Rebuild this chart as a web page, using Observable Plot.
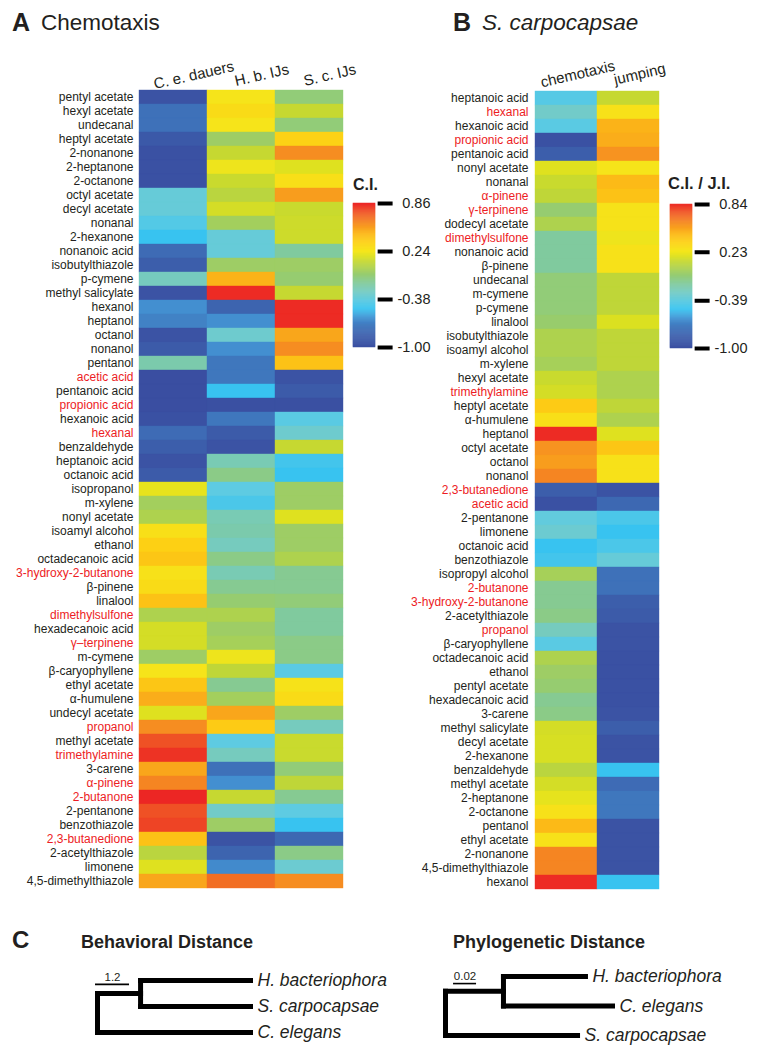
<!DOCTYPE html>
<html><head><meta charset="utf-8">
<script src="https://cdn.jsdelivr.net/npm/d3@7"></script>
<script src="https://cdn.jsdelivr.net/npm/@observablehq/plot@0.6"></script>
<style>
body{margin:0;background:#fff;}
#fig{position:relative;width:757px;height:1050px;font-family:"Liberation Sans",Arial,Helvetica,sans-serif;color:#231f20;overflow:hidden;background:#fff}
.abs{position:absolute;line-height:1;white-space:nowrap}
.abs svg{overflow:visible}
</style></head><body><div id="fig"></div>
<script>
// ---------------- data ----------------
const columnsA = ["C. e. dauers", "H. b. IJs", "S. c. IJs"];
const compoundsA = ["pentyl acetate","hexyl acetate","undecanal","heptyl acetate","2-nonanone","2-heptanone","2-octanone","octyl acetate","decyl acetate","nonanal","2-hexanone","nonanoic acid","isobutylthiazole","p-cymene","methyl salicylate","hexanol","heptanol","octanol","nonanol","pentanol","acetic acid","pentanoic acid","propionic acid","hexanoic acid","hexanal","benzaldehyde","heptanoic acid","octanoic acid","isopropanol","m-xylene","nonyl acetate","isoamyl alcohol","ethanol","octadecanoic acid","3-hydroxy-2-butanone","β-pinene","linalool","dimethylsulfone","hexadecanoic acid","γ–terpinene","m-cymene","β-caryophyllene","ethyl acetate","α-humulene","undecyl acetate","propanol","methyl acetate","trimethylamine","3-carene","α-pinene","2-butanone","2-pentanone","benzothiazole","2,3-butanedione","2-acetylthiazole","limonene","4,5-dimethylthiazole"];
const ceDauers = [-0.95,-0.75,-0.75,-0.9,-0.97,-0.97,-0.97,-0.36,-0.36,-0.43,-0.5,-0.78,-0.85,-0.27,-0.95,-0.63,-0.68,-0.95,-0.88,-0.22,-1.0,-1.0,-1.0,-0.97,-0.78,-0.85,-0.95,-0.88,0.2,-0.01,0.03,0.28,0.36,0.4,0.27,0.3,0.42,0.03,0.15,0.15,-0.03,0.25,0.4,0.5,0.18,0.6,0.75,0.82,0.52,0.62,0.85,0.75,0.78,0.42,0.07,0.18,0.52];
const hbIJs = [0.25,0.3,0.25,-0.03,0.11,0.22,0.12,0.07,0.15,-0.01,-0.36,-0.36,-0.03,0.48,0.84,-0.82,-0.63,-0.32,-0.63,-0.72,-0.72,-0.5,-0.98,-0.72,-0.88,-0.95,-0.24,-0.12,-0.4,-0.45,-0.24,-0.22,-0.27,-0.12,-0.24,-0.15,-0.06,0.03,-0.03,0.0,0.22,0.09,-0.15,-0.01,0.52,0.38,-0.4,-0.27,-0.75,-0.63,0.11,-0.3,-0.03,-0.95,-0.82,-0.65,0.68];
const scIJs = [-0.08,0.11,-0.08,0.35,0.6,0.18,0.28,0.55,0.12,0.13,0.13,-0.18,-0.03,-0.06,0.11,0.84,0.84,0.52,0.6,0.42,-0.95,-0.88,-0.98,-0.41,-0.32,0.11,-0.47,-0.5,-0.03,-0.03,0.18,-0.03,-0.03,0.03,-0.15,-0.15,-0.08,-0.18,-0.18,-0.12,-0.12,-0.41,0.26,0.3,-0.03,-0.27,0.12,0.12,-0.08,0.09,-0.15,-0.4,-0.5,-0.8,-0.12,-0.33,0.6];

const columnsB = ["chemotaxis", "jumping"];
const compoundsB = ["heptanoic acid","hexanal","hexanoic acid","propionic acid","pentanoic acid","nonyl acetate","nonanal","α-pinene","γ-terpinene","dodecyl acetate","dimethylsulfone","nonanoic acid","β-pinene","undecanal","m-cymene","p-cymene","linalool","isobutylthiazole","isoamyl alcohol","m-xylene","hexyl acetate","trimethylamine","heptyl acetate","α-humulene","heptanol","octyl acetate","octanol","nonanol","2,3-butanedione","acetic acid","2-pentanone","limonene","octanoic acid","benzothiazole","isopropyl alcohol","2-butanone","3-hydroxy-2-butanone","2-acetylthiazole","propanol","β-caryophyllene","octadecanoic acid","ethanol","pentyl acetate","hexadecanoic acid","3-carene","methyl salicylate","decyl acetate","2-hexanone","benzaldehyde","methyl acetate","2-heptanone","2-octanone","pentanol","ethyl acetate","2-nonanone","4,5-dimethylthiazole","hexanol"];
const scChemotaxis = [-0.42,-0.3,-0.41,-0.97,-0.85,0.18,0.12,0.09,-0.06,0.03,-0.18,-0.18,-0.18,-0.08,-0.08,-0.08,-0.05,0.03,0.03,0.0,0.12,0.15,0.38,0.28,0.84,0.58,0.55,0.62,-0.85,-0.97,-0.38,-0.33,-0.5,-0.47,0.0,-0.15,-0.15,-0.12,-0.27,-0.41,0.03,-0.03,-0.06,-0.15,-0.12,0.15,0.16,0.16,0.07,0.15,0.2,0.27,0.45,0.27,0.62,0.62,0.84];
const scJumping = [0.11,0.27,0.48,0.5,0.58,0.25,0.45,0.42,0.26,0.26,0.22,0.27,0.27,0.09,0.09,0.09,0.17,0.09,0.09,0.09,0.03,0.03,0.09,0.03,0.18,0.4,0.27,0.27,-0.95,-0.8,-0.45,-0.5,-0.45,-0.36,-0.75,-0.75,-0.85,-0.88,-0.95,-0.95,-0.97,-0.97,-0.97,-0.97,-0.95,-0.85,-0.95,-0.95,-0.5,-0.78,-0.72,-0.72,-0.95,-0.95,-0.95,-0.95,-0.5];

const redCompounds = ["acetic acid","propionic acid","hexanal","3-hydroxy-2-butanone","dimethylsulfone","γ–terpinene","γ-terpinene","propanol","trimethylamine","α-pinene","2-butanone","2,3-butanedione"];

const ciTicks = [0.86, 0.24, -0.38, -1.00];
const cijiTicks = [0.84, 0.23, -0.39, -1.00];

// dendrograms: node names, parent, branch length (listed parents first)
const behavNodes = ["root", "n1", "H. bacteriophora", "S. carpocapsae", "C. elegans"];
const behavParents = [null, "root", "n1", "n1", "root"];
const behavLengths = [0, 1.52, 3.88, 3.88, 5.4];
const behavScale = 1.2;

const phyloNodes = ["root", "n1", "H. bacteriophora", "C. elegans", "S. carpocapsae"];
const phyloParents = [null, "root", "n1", "n1", "root"];
const phyloLengths = [0, 0.0504, 0.0713, 0.0948, 0.1148];
const phyloScale = 0.02;

// ---------------- styles ----------------
const FONT = '"Liberation Sans", Arial, Helvetica, sans-serif';
const INK = "#231f20";
const RED = "#ed1c24";
const colorStops = [-1.00,-0.85,-0.72,-0.62,-0.50,-0.40,-0.30,-0.18,-0.05,0.10,0.17,0.24,0.36,0.48,0.60,0.73,0.86];
const colorHex = ["#3a4ea1","#3c5eab","#3f77bd","#4392d2","#38c3f0","#5ecbe2","#72cbc9","#80ca9e","#98cc6c","#c2d734","#dbe020","#f5e61a","#fdd014","#fbb318","#f68d21","#f05a25","#ec2224"];
const colorScale = {type: "linear", domain: colorStops, range: colorHex, interpolate: "rgb", clamp: true};
const plotStyle = {fontFamily: FONT, background: "none", overflow: "visible", color: INK};

const fig = document.getElementById("fig");
function place(node, left, top) {
  const d = document.createElement("div");
  d.className = "abs"; d.style.left = left + "px"; d.style.top = top + "px";
  d.appendChild(node); fig.appendChild(d); return d;
}
function label(text, left, baseline, size, weight, style) {
  const s = document.createElement("span");
  s.textContent = text;
  s.style.fontSize = size + "px";
  s.style.fontWeight = weight || "normal";
  s.style.fontStyle = style || "normal";
  s.style.display = "block";
  place(s, left, baseline - 0.8465 * size);
}

const redSet = new Set(redCompounds);

function heatmap(rows, cols, values, o) {
  const data = rows.flatMap((r, i) => cols.map((c, j) => ({row: r, col: c, value: values[j][i]})));
  return Plot.plot({
    width: o.width, height: o.height,
    marginLeft: o.marginLeft, marginRight: 2, marginTop: o.marginTop, marginBottom: 2,
    x: {domain: cols, axis: null, padding: 0},
    y: {domain: rows, axis: null, padding: 0},
    color: colorScale,
    style: plotStyle,
    marks: [
      Plot.cell(data, {x: "col", y: "row", fill: "value", stroke: "value", strokeWidth: 0.4, inset: 0}),
      Plot.text(rows.filter(r => !redSet.has(r)), {y: d => d, text: d => d, frameAnchor: "left", textAnchor: "end", dx: o.labelGap, fontSize: 12, fill: INK}),
      Plot.text(rows.filter(r => redSet.has(r)), {y: d => d, text: d => d, frameAnchor: "left", textAnchor: "end", dx: o.labelGap, fontSize: 12, fill: RED}),
      Plot.text(cols, {x: d => d, text: d => d, frameAnchor: "top", rotate: -13, dx: o.colDx, dy: o.colDy, fontSize: 15, fill: INK})
    ]
  });
}

function colorbar(lo, hi, ticks, mTop, mBottom) {
  const n = 150;
  const steps = d3.range(n).map(i => ({y1: lo + (hi - lo) * i / n, y2: lo + (hi - lo) * (i + 1) / n}));
  return Plot.plot({
    width: 100, height: 170, marginLeft: 13, marginRight: 65, marginTop: mTop, marginBottom: mBottom,
    x: {domain: [0, 1], axis: null},
    y: {domain: [lo, hi], axis: null},
    color: colorScale,
    style: plotStyle,
    marks: [
      Plot.rect(steps, {x1: 0, x2: 1, y1: "y1", y2: "y2", fill: d => (d.y1 + d.y2) / 2, stroke: d => (d.y1 + d.y2) / 2, strokeWidth: 0.5}),
      Plot.ruleY(ticks, {y: d => d, x1: 1.12, x2: 1.8, strokeWidth: 4, stroke: "#000"}),
      Plot.text(ticks, {y: d => d, x: 3.5, text: d => d.toFixed(2), textAnchor: "end", fontSize: 14.5, fill: INK})
    ]
  });
}

function tree(nodes, parents, lengths, scale, o) {
  const x = {}, y = {}, kids = {};
  nodes.forEach((n, i) => { x[n] = (parents[i] ? x[parents[i]] : 0) + lengths[i]; if (parents[i]) (kids[parents[i]] ||= []).push(n); });
  let leafIdx = 0;
  nodes.forEach(n => { if (!kids[n]) y[n] = leafIdx++; });
  for (let i = nodes.length - 1; i >= 0; i--) { const n = nodes[i]; if (kids[n]) y[n] = d3.mean(kids[n], k => y[k]); }
  const links = [];
  nodes.forEach((n, i) => {
    if (parents[i]) links.push({x1: x[parents[i]], x2: x[n], y1: y[n], y2: y[n]});
    if (kids[n]) links.push({x1: x[n], x2: x[n], y1: d3.min(kids[n], k => y[k]), y2: d3.max(kids[n], k => y[k])});
  });
  const leaves = nodes.filter(n => !kids[n]);
  const bar = [{x1: o.barStart, x2: o.barStart + scale, y: o.barY, label: String(scale)}];
  return Plot.plot({
    width: o.width, height: 100, marginLeft: o.marginLeft, marginRight: o.marginRight, marginTop: o.marginTop, marginBottom: o.marginBottom,
    x: {domain: [0, d3.max(nodes, n => x[n])], axis: null},
    y: {domain: [0, 2], axis: null, reverse: true},
    style: plotStyle,
    marks: [
      Plot.link(links, {x1: "x1", y1: "y1", x2: "x2", y2: "y2", stroke: "#000", strokeWidth: 5, strokeLinecap: "square"}),
      Plot.text(leaves, {x: d => x[d], y: d => y[d], text: d => d, dx: 7, textAnchor: "start", fontSize: 17.5, fontStyle: "italic", fill: INK}),
      Plot.ruleY(bar, {y: "y", x1: "x1", x2: "x2", strokeWidth: 1.6, stroke: "#000"}),
      Plot.text(bar, {x: d => (d.x1 + d.x2) / 2, y: "y", text: "label", dy: -7, fontSize: 11.5, fill: INK})
    ]
  });
}

// ---------------- layout ----------------
label("A", 12, 31, 25, "bold");
label("Chemotaxis", 41, 31, 22.5);
label("B", 453, 31, 25, "bold");
label("S. carpocapsae", 482, 31, 22.5, "normal", "italic");

place(heatmap(compoundsA, columnsA, [ceDauers, hbIJs, scIJs], {width: 345, height: 895, marginLeft: 139, marginTop: 85, labelGap: -6, colDx: 19, colDy: -16}), 0, 0);
place(heatmap(compoundsB, columnsB, [scChemotaxis, scJumping], {width: 281, height: 897, marginLeft: 155, marginTop: 85, labelGap: -7, colDx: 10, colDy: -17}), 380, 0);

label("C.I.", 353, 191, 16, "bold");
place(colorbar(-1, 0.86, ciTicks, 13, 13), 340, 190);
label("C.I. / J.I.", 668, 189, 16.5, "bold");
place(colorbar(-1, 0.84, cijiTicks, 14, 12), 657, 190);

label("C", 12, 948, 24, "bold");
label("Behavioral Distance", 81, 948, 18, "bold");
label("Phylogenetic Distance", 453, 948, 18, "bold");

place(tree(behavNodes, behavParents, behavLengths, behavScale, {width: 400, marginLeft: 97, marginRight: 150, marginTop: 30, marginBottom: 18, barStart: -0.07, barY: 0.15}), 0, 950);
place(tree(phyloNodes, phyloParents, phyloLengths, phyloScale, {width: 377, marginLeft: 65, marginRight: 145, marginTop: 26, marginBottom: 15, barStart: 0.007, barY: 0.24}), 380, 950);
</script>
</body></html>
